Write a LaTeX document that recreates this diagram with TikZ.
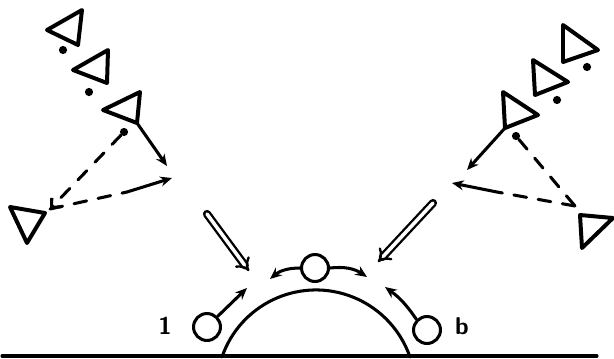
\documentclass[tikz,border=0pt]{standalone}
\usepackage{tikz}
\usetikzlibrary{arrows.meta, positioning}

\begin{document}
\begin{tikzpicture}[x=0.03cm, y=-0.03cm, line cap=round, line join=round,
    tri/.style={line width=3.4pt},
    punto/.style={circle, fill, inner sep=0pt, minimum size=7pt},
    bola/.style={circle, draw, line width=2.6pt, minimum size=23pt, inner sep=0pt},
    flecha/.style={line width=2.6pt, -{Stealth[length=10pt, width=8.5pt]}},
    eco/.style={line width=2.6pt, dash pattern=on 11pt off 10pt},
    doble/.style={double, double distance=3pt, line width=2pt, -{Implies}}]
  \useasboundingbox (0,0) rectangle (614,358);
  % Emisores izquierda
  \draw[tri] (47,30) -- (82,10) -- (78,45) -- cycle;
  \draw[tri] (73,70) -- (108,50) -- (107,83) -- cycle;
  \draw[tri] (103,110) -- (140,92) -- (137,123) -- cycle;
  \coordinate (tL3) at (137,123);
  \node[punto] (dL1) at (63,50) {};
  \node[punto] (dL2) at (89,92) {};
  \node[punto] (dL3) at (124,132) {};
  % Receptor izquierda
  \draw[tri] (10,207) -- (45,213) -- (27,243) -- cycle;
  \coordinate (rL) at (50,209);
  \coordinate (eL) at (127,192);
  \coordinate (pL1) at (167,166);
  \coordinate (pL2) at (172,178);
  \draw[flecha] (tL3) -- (pL1);
  \draw[eco, -{Straight Barb[length=6pt, width=11pt]}] (dL3) -- (rL);
  \draw[eco] (rL) -- (eL);
  \draw[flecha] (eL) -- (pL2);
  % Emisores derecha
  \draw[tri] (563,25) -- (598,50) -- (563,62) -- cycle;
  \draw[tri] (533,60) -- (568,82) -- (535,95) -- cycle;
  \draw[tri] (503,92) -- (538,115) -- (505,128) -- cycle;
  \coordinate (tR3) at (505,128);
  \node[punto] (dR1) at (587,67) {};
  \node[punto] (dR2) at (557,100) {};
  \node[punto] (dR3) at (516,136) {};
  % Receptor derecha
  \draw[tri] (580,215) -- (613,218) -- (582,248) -- cycle;
  \coordinate (rR) at (575,206);
  \coordinate (eR) at (497,192);
  \coordinate (pR1) at (467,170);
  \coordinate (pR2) at (452,183);
  \draw[flecha] (tR3) -- (pR1);
  \draw[eco] (dR3) -- (rR);
  \draw[eco] (rR) -- (eR);
  \draw[flecha] (eR) -- (pR2);
  % Flechas dobles
  \coordinate (aL) at (207,214);
  \coordinate (bL) at (249,271);
  \coordinate (aR) at (433,203);
  \coordinate (bR) at (378,262);
  \draw[doble] (aL) -- (bL);
  \draw[doble] (aR) -- (bR);
  % Superficie
  \draw[line width=2.6pt] (2,356) -- (597,356);
  \draw[line width=2.6pt] (222,357) arc[start angle=161, end angle=19, radius=2.982cm];
  % Particulas
  \node[bola] (c) at (315,268) {};
  \node[bola] (a) at (207,327) {};
  \node[bola] (b) at (427,330) {};
  \node[font=\sffamily\bfseries\huge] (la) at (165,326) {1};
  \node[font=\sffamily\bfseries\huge] (lb) at (462,326) {b};
  \coordinate (cL) at (270,279);
  \coordinate (cR) at (367,277);
  \coordinate (aT) at (247,288);
  \coordinate (bT) at (385,287);
  \draw[flecha] (c.west) to[bend right=20] (cL);
  \draw[flecha] (c.east) to[bend left=20] (cR);
  \draw[flecha] (a.north east) -- (aT);
  \draw[flecha] (b.north west) to[bend right=10] (bT);
\end{tikzpicture}
\end{document}
